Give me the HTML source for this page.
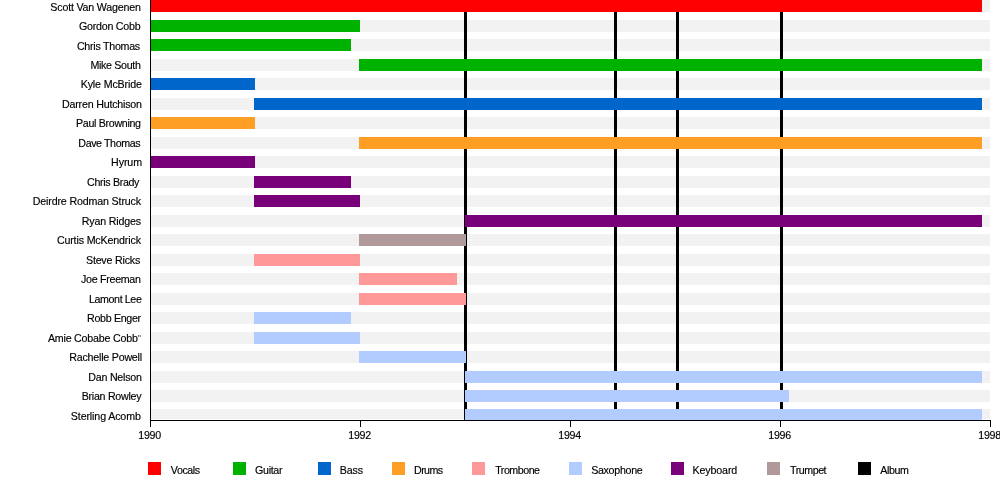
<!DOCTYPE html>
<html><head><meta charset="utf-8"><title>Timeline</title>
<style>
html,body{margin:0;padding:0;background:#fff;}
body{width:1000px;height:480px;overflow:hidden;position:relative;font-family:"Liberation Sans",sans-serif;font-size:10.67px;color:#000;-webkit-text-stroke:0.15px #000;}
.g,.b,.l,.n,.y,.t,.s,.k{position:absolute;}
.g{left:151px;width:839px;height:12px;background:#f2f2f2;}
.b{height:12px;}
.l{top:0;width:3px;height:420px;background:#000;}
.n,.y,.k{white-space:nowrap;}
.n{line-height:12px;height:12px;}
.y{line-height:14px;}
.t{top:420px;width:1px;height:7px;background:#000;}
.s{top:462px;width:13px;height:13px;}
.k{line-height:14px;}
.q{font-size:9px;color:#333;-webkit-text-stroke:0;position:relative;top:-1px;line-height:0;letter-spacing:0;}
</style></head><body>

<div class="g" style="top:0px;height:12px"></div>
<div class="g" style="top:20px;height:12px"></div>
<div class="g" style="top:39px;height:12px"></div>
<div class="g" style="top:59px;height:12px"></div>
<div class="g" style="top:78px;height:12px"></div>
<div class="g" style="top:98px;height:12px"></div>
<div class="g" style="top:117px;height:12px"></div>
<div class="g" style="top:137px;height:12px"></div>
<div class="g" style="top:156px;height:12px"></div>
<div class="g" style="top:176px;height:12px"></div>
<div class="g" style="top:195px;height:12px"></div>
<div class="g" style="top:215px;height:12px"></div>
<div class="g" style="top:234px;height:12px"></div>
<div class="g" style="top:254px;height:12px"></div>
<div class="g" style="top:273px;height:12px"></div>
<div class="g" style="top:293px;height:12px"></div>
<div class="g" style="top:312px;height:12px"></div>
<div class="g" style="top:332px;height:12px"></div>
<div class="g" style="top:351px;height:12px"></div>
<div class="g" style="top:371px;height:12px"></div>
<div class="g" style="top:390px;height:12px"></div>
<div class="g" style="top:409px;height:10px"></div>
<div class="l" style="left:464px"></div>
<div class="l" style="left:614px"></div>
<div class="l" style="left:676px"></div>
<div class="l" style="left:780px"></div>
<div class="b" style="top:0px;left:150px;width:832px;height:12px;background:#ff0000"></div>
<div class="b" style="top:20px;left:150px;width:210px;height:12px;background:#00b200"></div>
<div class="b" style="top:39px;left:150px;width:201px;height:12px;background:#00b200"></div>
<div class="b" style="top:59px;left:359px;width:623px;height:12px;background:#00b200"></div>
<div class="b" style="top:78px;left:150px;width:105px;height:12px;background:#0066cc"></div>
<div class="b" style="top:98px;left:254px;width:728px;height:12px;background:#0066cc"></div>
<div class="b" style="top:117px;left:150px;width:105px;height:12px;background:#ff9e24"></div>
<div class="b" style="top:137px;left:359px;width:623px;height:12px;background:#ff9e24"></div>
<div class="b" style="top:156px;left:150px;width:105px;height:12px;background:#780078"></div>
<div class="b" style="top:176px;left:254px;width:97px;height:12px;background:#780078"></div>
<div class="b" style="top:195px;left:254px;width:106px;height:12px;background:#780078"></div>
<div class="b" style="top:215px;left:465px;width:517px;height:12px;background:#780078"></div>
<div class="b" style="top:234px;left:359px;width:107px;height:12px;background:#b29999"></div>
<div class="b" style="top:254px;left:254px;width:106px;height:12px;background:#ff9999"></div>
<div class="b" style="top:273px;left:359px;width:98px;height:12px;background:#ff9999"></div>
<div class="b" style="top:293px;left:359px;width:107px;height:12px;background:#ff9999"></div>
<div class="b" style="top:312px;left:254px;width:97px;height:12px;background:#b2ccff"></div>
<div class="b" style="top:332px;left:254px;width:106px;height:12px;background:#b2ccff"></div>
<div class="b" style="top:351px;left:359px;width:107px;height:12px;background:#b2ccff"></div>
<div class="b" style="top:371px;left:465px;width:517px;height:12px;background:#b2ccff"></div>
<div class="b" style="top:390px;left:465px;width:324px;height:12px;background:#b2ccff"></div>
<div class="b" style="top:409px;left:465px;width:517px;height:11px;background:#b2ccff"></div>
<div style="position:absolute;left:150px;top:0;width:1px;height:421px;background:#000"></div>
<div style="position:absolute;left:150px;top:420px;width:841px;height:1px;background:#000"></div>
<div class="t" style="left:150px"></div>
<div class="t" style="left:360px"></div>
<div class="t" style="left:570px"></div>
<div class="t" style="left:780px"></div>
<div class="t" style="left:990px"></div>
<div class="s" style="left:148px;background:#ff0000"></div>
<div class="s" style="left:233px;background:#00b200"></div>
<div class="s" style="left:318px;background:#0066cc"></div>
<div class="s" style="left:392px;background:#ff9e24"></div>
<div class="s" style="left:472px;background:#ff9999"></div>
<div class="s" style="left:569px;background:#b2ccff"></div>
<div class="s" style="left:671px;background:#780078"></div>
<div class="s" style="left:767px;background:#b29999"></div>
<div class="s" style="left:858px;background:#000000"></div>
<div class="n" style="top:1px;left:50.37px;letter-spacing:-0.188px">Scott Van Wagenen</div>
<div class="n" style="top:20px;left:78.94px;letter-spacing:-0.233px">Gordon Cobb</div>
<div class="n" style="top:40px;left:76.88px;letter-spacing:-0.256px">Chris Thomas</div>
<div class="n" style="top:59px;left:90.40px;letter-spacing:-0.307px">Mike South</div>
<div class="n" style="top:78px;left:80.73px;letter-spacing:-0.149px">Kyle McBride</div>
<div class="n" style="top:98px;left:62.06px;letter-spacing:-0.199px">Darren Hutchison</div>
<div class="n" style="top:117px;left:76.06px;letter-spacing:-0.312px">Paul Browning</div>
<div class="n" style="top:137px;left:78.36px;letter-spacing:-0.401px">Dave Thomas</div>
<div class="n" style="top:156px;left:111.06px;letter-spacing:-0.087px">Hyrum</div>
<div class="n" style="top:176px;left:87.09px;letter-spacing:-0.329px">Chris Brady</div>
<div class="n" style="top:195px;left:32.73px;letter-spacing:-0.150px">Deirdre Rodman Struck</div>
<div class="n" style="top:215px;left:81.73px;letter-spacing:-0.163px">Ryan Ridges</div>
<div class="n" style="top:234px;left:56.90px;letter-spacing:-0.149px">Curtis McKendrick</div>
<div class="n" style="top:254px;left:85.99px;letter-spacing:-0.203px">Steve Ricks</div>
<div class="n" style="top:273px;left:81.03px;letter-spacing:-0.287px">Joe Freeman</div>
<div class="n" style="top:293px;left:89.00px;letter-spacing:-0.385px">Lamont Lee</div>
<div class="n" style="top:312px;left:87.06px;letter-spacing:-0.309px">Robb Enger</div>
<div class="n" style="top:332px;left:47.89px;letter-spacing:-0.199px">Amie Cobabe Cobb<span class="q">&quot;</span></div>
<div class="n" style="top:351px;left:69.33px;letter-spacing:-0.218px">Rachelle Powell</div>
<div class="n" style="top:371px;left:88.36px;letter-spacing:-0.240px">Dan Nelson</div>
<div class="n" style="top:390px;left:81.73px;letter-spacing:-0.271px">Brian Rowley</div>
<div class="n" style="top:410px;left:70.84px;letter-spacing:-0.128px">Sterling Acomb</div>
<div class="y" style="top:428px;left:138.30px;letter-spacing:-0.300px">1990</div>
<div class="y" style="top:428px;left:348.30px;letter-spacing:-0.300px">1992</div>
<div class="y" style="top:428px;left:558.30px;letter-spacing:-0.300px">1994</div>
<div class="y" style="top:428px;left:768.30px;letter-spacing:-0.300px">1996</div>
<div class="y" style="top:428px;left:978.30px;letter-spacing:-0.300px">1998</div>
<div class="k" style="top:463px;left:170.86px;letter-spacing:-0.441px">Vocals</div>
<div class="k" style="top:463px;left:255.09px;letter-spacing:-0.327px">Guitar</div>
<div class="k" style="top:463px;left:339.73px;letter-spacing:-0.130px">Bass</div>
<div class="k" style="top:463px;left:414.06px;letter-spacing:-0.602px">Drums</div>
<div class="k" style="top:463px;left:495.20px;letter-spacing:-0.479px">Trombone</div>
<div class="k" style="top:463px;left:591.17px;letter-spacing:-0.299px">Saxophone</div>
<div class="k" style="top:463px;left:692.53px;letter-spacing:-0.127px">Keyboard</div>
<div class="k" style="top:463px;left:790.01px;letter-spacing:-0.451px">Trumpet</div>
<div class="k" style="top:463px;left:880.29px;letter-spacing:-0.396px">Album</div>
</body></html>
